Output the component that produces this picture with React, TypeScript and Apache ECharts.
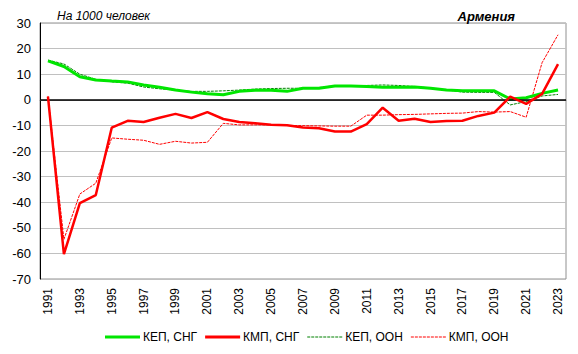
import React, { useEffect, useRef } from "react";
import * as echarts from "echarts";

const years = Array.from({ length: 33 }, (_, i) => String(1991 + i));

const kepCis = [15.2, 13, 9, 7.7, 7.3, 7, 5.8, 4.9, 3.8, 3, 2.4, 2, 3.3, 3.7, 3.7, 3.3, 4.5, 4.5, 5.4, 5.4, 5.2, 4.9, 4.9, 5, 4.5, 3.8, 3.5, 3.5, 3.5, 0.3, 0.8, 2.5, 3.8];
const kmpCis = [1.2, -60.3, -40.4, -37.2, -10.9, -8.2, -8.7, -7, -5.5, -7.1, -4.8, -7.5, -8.7, -9.2, -9.7, -9.9, -10.8, -11.1, -12.4, -12.4, -9.5, -3.1, -8.2, -7.4, -8.7, -8.3, -8.2, -6.3, -5, 1.2, -1.6, 2.3, 13.9];
const kepUn = [15.5, 14, 10, 8, 7, 6.5, 5, 4.3, 3.8, 3.3, 3.3, 3.5, 3.8, 4.2, 4.4, 4.5, 4.5, 4.8, 5.5, 5.5, 5.6, 5.8, 5.6, 5.2, 4.6, 3.9, 3, 2.9, 2.9, -2, -0.7, 1.5, 2.1];
const kmpUn = [1.5, -54.5, -36.8, -32.6, -14.9, -15.4, -15.8, -17.4, -16.2, -16.9, -16.6, -9.2, -9.8, -9.8, -9.8, -10, -10.1, -10.2, -10.3, -10.3, -6, -6, -5.8, -5.7, -5.5, -5.3, -5.2, -4.6, -4.8, -4.6, -6.8, 14.5, 25.4];

const FONT = "Liberation Sans, Arial, sans-serif";

export default function App() {
  const ref = useRef<HTMLDivElement>(null);
  useEffect(() => {
    if (!ref.current) return;
    const chart = echarts.init(ref.current, undefined, { renderer: "svg" });
    chart.setOption({
      animation: false,
      textStyle: { fontFamily: FONT },
      title: [
        {
          text: "На 1000 человек",
          left: 52,
          top: 5,
          textStyle: { fontSize: 12, fontStyle: "italic", fontWeight: "normal", color: "#000", fontFamily: FONT },
        },
        {
          text: "Армения",
          right: 58,
          top: 5,
          textStyle: { fontSize: 13, fontStyle: "italic", fontWeight: "bold", color: "#000", fontFamily: FONT },
        },
      ],
      legend: {
        bottom: 6,
        left: 100,
        itemWidth: 35,
        itemHeight: 3,
        itemGap: 8,
        icon: "rect",
        textStyle: { fontSize: 12, color: "#000", fontFamily: FONT, padding: [0, 0, 0, -2] },
        data: [
          { name: "КЕП, СНГ", itemStyle: { color: "#00e600" } },
          { name: "КМП, СНГ", itemStyle: { color: "#ff0000" } },
          { name: "КЕП, ООН", icon: "path://M0,0h3v1h-3zM4,0h3v1h-3zM8,0h3v1h-3zM12,0h3v1h-3zM16,0h3v1h-3zM20,0h3v1h-3zM24,0h3v1h-3zM28,0h3v1h-3zM32,0h3v1h-3z", itemStyle: { color: "#008000" } },
          { name: "КМП, ООН", icon: "path://M0,0h3v1h-3zM4,0h3v1h-3zM8,0h3v1h-3zM12,0h3v1h-3zM16,0h3v1h-3zM20,0h3v1h-3zM24,0h3v1h-3zM28,0h3v1h-3zM32,0h3v1h-3z", itemStyle: { color: "#ff0000" } },
        ],
      },
      grid: {
        left: 40,
        right: 12,
        top: 23,
        bottom: 75,
        show: true,
        borderColor: "#909090",
        borderWidth: 1,
      },
      xAxis: {
        type: "category",
        data: years,
        boundaryGap: true,
        axisLine: { show: true, lineStyle: { color: "#909090" } },
        axisTick: { show: false },
        axisLabel: {
          interval: 1,
          rotate: 90,
          fontSize: 12,
          color: "#000",
          fontFamily: FONT,
          margin: 9,
        },
      },
      yAxis: {
        type: "value",
        min: -70,
        max: 30,
        interval: 10,
        axisLine: { show: true, lineStyle: { color: "#000", width: 1 } },
        axisTick: { show: false },
        splitLine: { lineStyle: { color: "#c0c0c0", width: 1 } },
        axisLabel: { fontSize: 13, color: "#000", fontFamily: FONT, margin: 9 },
      },
      series: [
        {
          name: "КЕП, ООН",
          type: "line",
          data: kepUn,
          symbol: "none",
          lineStyle: { color: "#008000", width: 1, type: [3, 1] },
          itemStyle: { color: "#008000" },
          z: 3,
          markLine: {
            silent: true,
            symbol: "none",
            label: { show: false },
            lineStyle: { color: "#000", width: 1.5, type: "solid" },
            data: [{ yAxis: 0 }],
          },
        },
        {
          name: "КМП, ООН",
          type: "line",
          data: kmpUn,
          symbol: "none",
          lineStyle: { color: "#ff0000", width: 1, type: [3, 1] },
          itemStyle: { color: "#ff0000" },
          z: 3,
        },
        {
          name: "КЕП, СНГ",
          type: "line",
          data: kepCis,
          symbol: "none",
          lineStyle: { color: "#00e600", width: 3 },
          itemStyle: { color: "#00e600" },
          z: 4,
        },
        {
          name: "КМП, СНГ",
          type: "line",
          data: kmpCis,
          symbol: "none",
          lineStyle: { color: "#ff0000", width: 2.5 },
          itemStyle: { color: "#ff0000" },
          z: 5,
        },
      ],
    });
    return () => chart.dispose();
  }, []);
  return <div ref={ref} style={{ width: 578, height: 354, position: "absolute", left: 0, top: 0 }} />;
}
